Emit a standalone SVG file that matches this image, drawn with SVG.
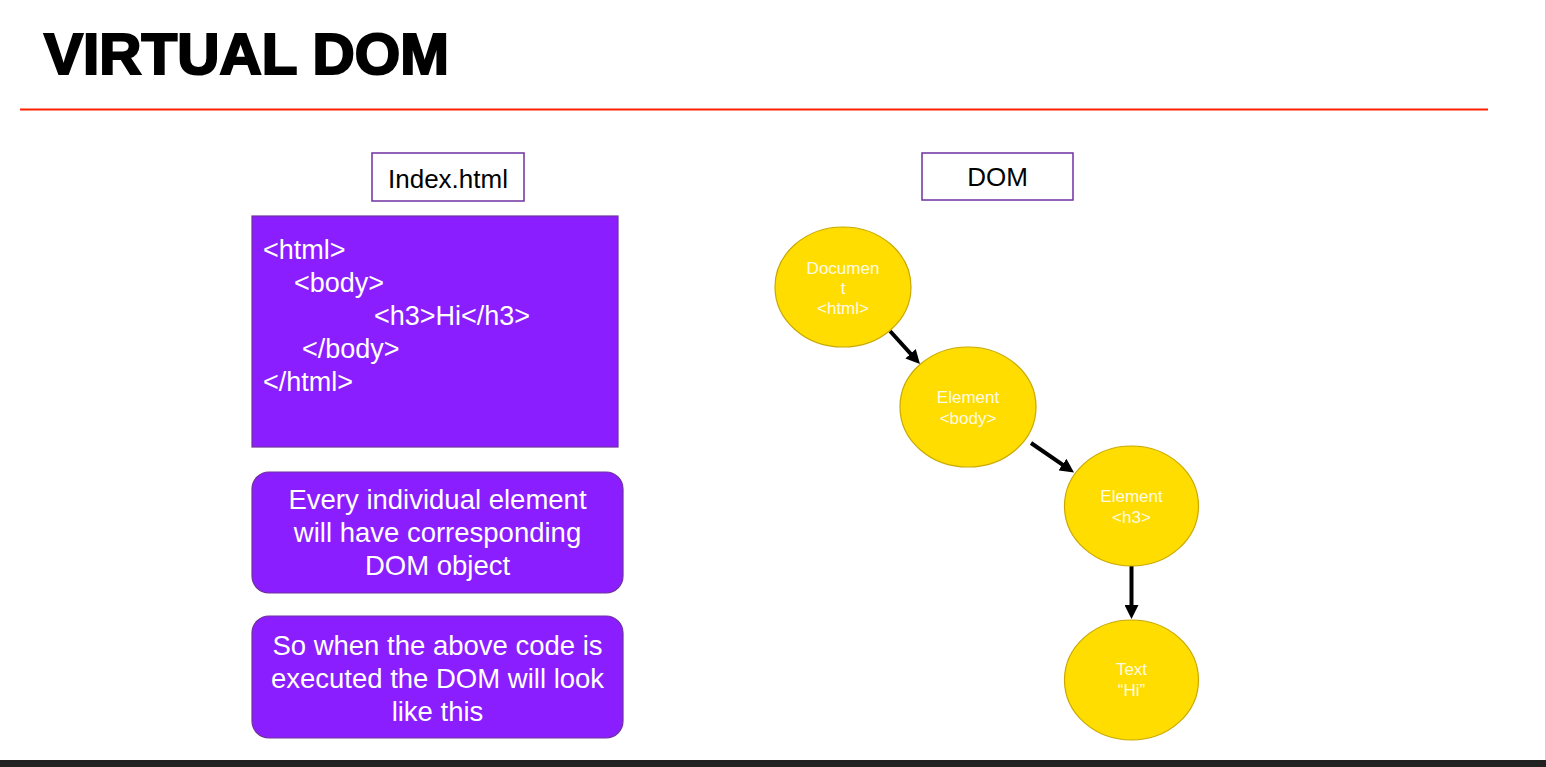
<svg xmlns="http://www.w3.org/2000/svg" width="1546" height="767" viewBox="0 0 1546 767">
<defs>
<style>
.sans{font-family:"Liberation Sans",Arial,sans-serif;}
.lbl{fill:#000;font-size:26px;text-anchor:middle;}
.lblbox{fill:#fff;stroke:#7030A0;stroke-width:1.5;}
.code{fill:#fff;font-size:27px;}
.pbox{fill:#8A1EFF;stroke:#7030A0;stroke-width:1.2;}
.ptxt{fill:#fff;font-size:27.5px;text-anchor:middle;}
.node{fill:#FFDD00;stroke:#C9A900;stroke-width:1.2;}
.ntxt{fill:#FFFBE6;font-size:17px;text-anchor:middle;}
.conn{stroke:#000;stroke-width:4;fill:none;marker-end:url(#arr);}
</style>
<marker id="arr" viewBox="0 0 10 10" refX="6" refY="5" markerWidth="3.5" markerHeight="3.5" orient="auto">
<path d="M0,0 L10,5 L0,10 z" fill="#000"/>
</marker>
</defs>
<rect x="0" y="0" width="1546" height="767" fill="#fff"/>
<g id="title">
<text class="sans" x="44" y="74" font-size="58" font-weight="bold" fill="#000" stroke="#000" stroke-width="2.2" stroke-linejoin="miter" textLength="405" lengthAdjust="spacingAndGlyphs">VIRTUAL DOM</text>
<line x1="20" y1="109.5" x2="1488" y2="109.5" stroke="#FF2000" stroke-width="2"/>
</g>
<g id="index-label">
<rect class="lblbox" x="372" y="153" width="152" height="48"/>
<text class="sans lbl" x="448" y="188">Index.html</text>
</g>
<g id="code-box">
<rect class="pbox" x="252" y="216" width="366" height="231"/>
<text class="sans code" x="263" y="259">&lt;html&gt;</text>
<text class="sans code" x="294" y="292">&lt;body&gt;</text>
<text class="sans code" x="374" y="325">&lt;h3&gt;Hi&lt;/h3&gt;</text>
<text class="sans code" x="302" y="358">&lt;/body&gt;</text>
<text class="sans code" x="263" y="391">&lt;/html&gt;</text>
</g>
<g id="note1">
<rect class="pbox" x="252" y="472" width="371" height="121" rx="17"/>
<text class="sans ptxt" x="437.5" y="509">Every individual element</text>
<text class="sans ptxt" x="437.5" y="542">will have corresponding</text>
<text class="sans ptxt" x="437.5" y="575">DOM object</text>
</g>
<g id="note2">
<rect class="pbox" x="252" y="616" width="371" height="122" rx="17"/>
<text class="sans ptxt" x="437.5" y="655">So when the above code is</text>
<text class="sans ptxt" x="437.5" y="688">executed the DOM will look</text>
<text class="sans ptxt" x="437.5" y="721">like this</text>
</g>
<g id="dom-label">
<rect class="lblbox" x="922" y="153" width="151" height="47"/>
<text class="sans lbl" x="997.5" y="186">DOM</text>
</g>
<g id="connectors">
<line class="conn" x1="890" y1="331" x2="916.2" y2="359.9"/>
<line class="conn" x1="1031" y1="443" x2="1069.4" y2="469.3"/>
<line class="conn" x1="1131.5" y1="566" x2="1131.5" y2="613.4"/>
</g>
<g id="node-document">
<ellipse class="node" cx="843" cy="287" rx="68" ry="60"/>
<text class="sans ntxt" x="843" y="274">Documen</text>
<text class="sans ntxt" x="843" y="294">t</text>
<text class="sans ntxt" x="843" y="314">&lt;html&gt;</text>
</g>
<g id="node-body">
<ellipse class="node" cx="968" cy="407" rx="68" ry="60"/>
<text class="sans ntxt" x="968" y="403">Element</text>
<text class="sans ntxt" x="968" y="424">&lt;body&gt;</text>
</g>
<g id="node-h3">
<ellipse class="node" cx="1131.5" cy="506" rx="67" ry="60"/>
<text class="sans ntxt" x="1131.5" y="502">Element</text>
<text class="sans ntxt" x="1131.5" y="523">&lt;h3&gt;</text>
</g>
<g id="node-text">
<ellipse class="node" cx="1131.5" cy="680" rx="67" ry="60"/>
<text class="sans ntxt" x="1131.5" y="675">Text</text>
<text class="sans ntxt" x="1131.5" y="696">“Hi”</text>
</g>
<rect x="0" y="760" width="1546" height="7" fill="#222"/>
<line x1="1545.5" y1="0" x2="1545.5" y2="760" stroke="#d0d0d0" stroke-width="1"/>
</svg>
